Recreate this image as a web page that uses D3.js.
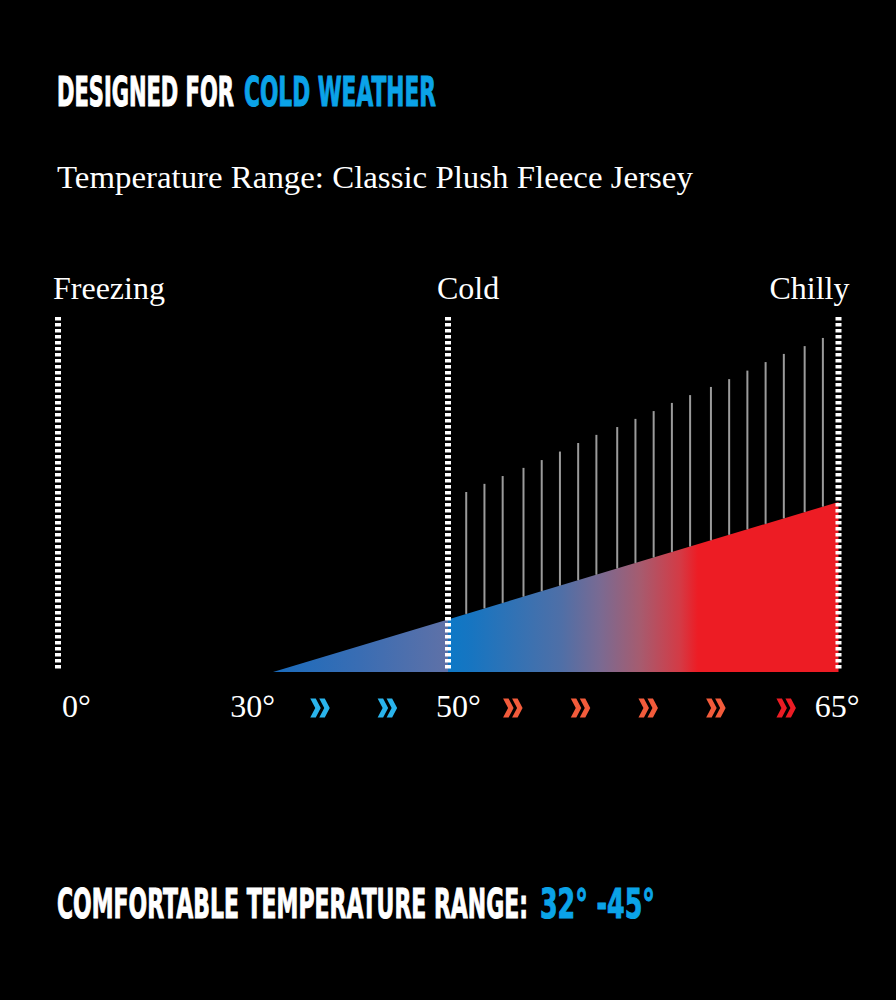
<!DOCTYPE html>
<html>
<head>
<meta charset="utf-8">
<script src="https://cdn.jsdelivr.net/npm/d3@7"></script>
<style>
  html, body { margin: 0; padding: 0; background: #000; }
  svg { display: block; }
</style>
</head>
<body>
<svg id="chart" width="896" height="1000"></svg>
<script>
// ---- data ----
const titleWhite = "DESIGNED FOR";
const titleBlue = "COLD WEATHER";
const subtitle = "Temperature Range: Classic Plush Fleece Jersey";
const footerWhite = "COMFORTABLE TEMPERATURE RANGE:";
const footerBlue = "32° -45°";

const zoneNames = ["Freezing", "Cold", "Chilly"];
const zoneTemps = [0, 50, 65];

const tickTemps = [0, 30, 50, 65];
const tickLabels = ["0°", "30°", "50°", "65°"];

// wedge: temperature vs. warmth level (0-100)
const wedgeTemps = [30, 65];
const wedgeLevels = [0, 47.9];

// grey hatch lines: temperature position and top level
const hatchTemps = [50.7, 51.4, 52.1, 52.9, 53.6, 54.3, 55.0, 55.7, 56.5, 57.2,
                    57.9, 58.6, 59.3, 60.1, 60.8, 61.5, 62.2, 62.9, 63.7, 64.4];
const hatchLevels = [50.7, 53.0, 55.2, 57.5, 59.7, 62.1, 64.5, 66.8, 69.0, 71.3,
                     73.5, 75.8, 78.0, 80.3, 82.5, 84.9, 87.3, 89.6, 91.8, 94.1];

// chevrons
const chevronTemps = [35.4, 43.1, 52.5, 55.1, 57.7, 60.3, 63.0];
const chevronKinds = ["cold", "cold", "warm", "warm", "warm", "warm", "hot"];

// ---- layout / style ----
const W = 896, H = 1000;
const BLUE = "#0ba3e8";
const chevronColor = { cold: "#2ab4ec", warm: "#f25b3b", hot: "#ec1c24" };

const svg = d3.select("#chart");
svg.append("rect").attr("width", W).attr("height", H).attr("fill", "#000");

const x = d3.scaleLinear().domain([0, 30, 50, 65]).range([58, 273, 448, 838.5]);
const y = d3.scaleLinear().domain([0, 100]).range([672, 317]);

const boldFont = "'DejaVu Sans', sans-serif";
const serif = "'Liberation Serif', 'Times New Roman', serif";

// condensed heavy headline text: natural glyphs squeezed horizontally
function boldText(txt, x0, base, len, color, size) {
  const t = svg.append("text")
    .attr("x", 0).attr("y", 0)
    .attr("font-family", boldFont).attr("font-weight", 700)
    .attr("font-size", size)
    .attr("fill", color)
    .attr("stroke", color).attr("stroke-width", 1.1)
    .text(txt);
  const w = t.node().getComputedTextLength();
  t.attr("transform", `translate(${x0},${base}) scale(${len / w},1)`);
}
boldText(titleWhite, 57, 106, 177, "#fff", 40);
boldText(titleBlue, 244, 106, 192, BLUE, 40);
boldText(footerWhite, 57, 918, 471, "#fff", 41);
boldText(footerBlue, 540, 918, 115, BLUE, 41);

{
  const t = svg.append("text")
    .attr("x", 0).attr("y", 0)
    .attr("font-family", serif).attr("font-size", 32.5)
    .attr("fill", "#fff").text(subtitle);
  const w = t.node().getComputedTextLength();
  t.attr("transform", `translate(57,188) scale(${636 / w},1)`);
}

// gradients
const defs = svg.append("defs");
function grad(id, x1, x2, stops) {
  const g = defs.append("linearGradient").attr("id", id)
    .attr("gradientUnits", "userSpaceOnUse")
    .attr("x1", x1).attr("x2", x2).attr("y1", 0).attr("y2", 0);
  stops.forEach(s => g.append("stop").attr("offset", s[0]).attr("stop-color", s[1]));
}
grad("gLeft", x(30), x(50), [[0, "#1a6cbd"], [0.5, "#3a6db3"], [1, "#5f71a7"]]);
grad("gRight", x(50), x(65), [
  [0, "#0d78c6"], [0.06, "#1775c1"], [0.29, "#4f6fa7"], [0.39, "#7a6a92"],
  [0.49, "#a55c70"], [0.595, "#d43a45"], [0.64, "#ed1c24"], [1, "#ed1c24"]
]);

// wedge (hypotenuse is straight in pixel space)
const p0 = [x(wedgeTemps[0]), y(wedgeLevels[0])];
const p1 = [x(wedgeTemps[1]), y(wedgeLevels[1])];
const topAt = px => p0[1] + (p1[1] - p0[1]) * (px - p0[0]) / (p1[0] - p0[0]);

const xm = x(50);
const line = d3.line();
svg.append("path")
  .attr("d", line([p0, [xm, topAt(xm)], [xm, y(0)]]) + "Z")
  .attr("fill", "url(#gLeft)");
svg.append("path")
  .attr("d", line([[xm, y(0)], [xm, topAt(xm)], p1, [p1[0], y(0)]]) + "Z")
  .attr("fill", "url(#gRight)");

// hatch lines
svg.append("g").selectAll("line")
  .data(hatchTemps.map((t, i) => ({ t, v: hatchLevels[i] })))
  .join("line")
  .attr("x1", d => x(d.t)).attr("x2", d => x(d.t))
  .attr("y1", d => y(d.v)).attr("y2", d => topAt(x(d.t)))
  .attr("stroke", "#9b9b9b").attr("stroke-width", 2);

// dotted zone lines
svg.append("g").selectAll("line")
  .data(zoneTemps)
  .join("line")
  .attr("x1", d => x(d)).attr("x2", d => x(d))
  .attr("y1", y(100)).attr("y2", y(0) - 1)
  .attr("stroke", "#fff").attr("stroke-width", 6)
  .attr("stroke-dasharray", "3.5,2.5");

// zone labels
const zoneAnchor = ["start", "start", "end"];
const zoneDx = [-5, -11, 11];
svg.append("g").selectAll("text")
  .data(zoneNames)
  .join("text")
  .attr("x", (d, i) => x(zoneTemps[i]) + zoneDx[i])
  .attr("y", 299)
  .attr("text-anchor", (d, i) => zoneAnchor[i])
  .attr("font-family", serif).attr("font-size", 32)
  .attr("fill", "#fff").text(d => d);

// tick labels
const tickAnchor = ["start", "end", "start", "end"];
const tickDx = [4, 2, -12, 21];
svg.append("g").selectAll("text")
  .data(tickLabels)
  .join("text")
  .attr("x", (d, i) => x(tickTemps[i]) + tickDx[i])
  .attr("y", 717)
  .attr("text-anchor", (d, i) => tickAnchor[i])
  .attr("font-family", serif).attr("font-size", 32)
  .attr("fill", "#fff").text(d => d);

// chevrons
const one = "M0,-9.5L5.5,-9.5L10.5,0L5.5,9.5L0,9.5L5,0Z";
const chev = svg.append("g").selectAll("g")
  .data(chevronTemps.map((t, i) => ({ t, k: chevronKinds[i] })))
  .join("g")
  .attr("transform", d => `translate(${x(d.t) - 10},708)`)
  .attr("fill", d => chevronColor[d.k]);
chev.append("path").attr("d", one);
chev.append("path").attr("d", one).attr("transform", "translate(9,0)");
</script>
</body>
</html>
